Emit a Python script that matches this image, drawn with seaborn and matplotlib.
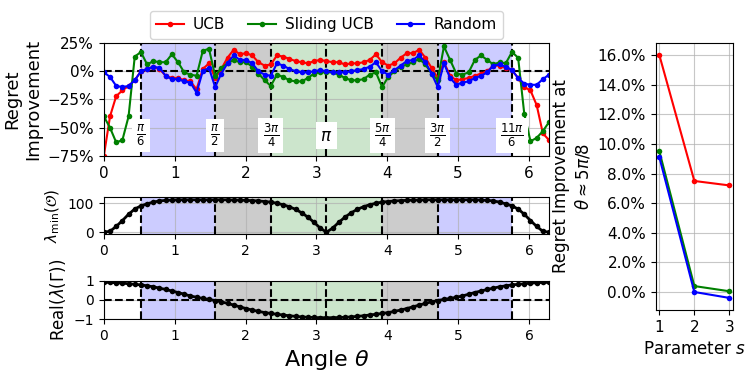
import numpy as np
import matplotlib
matplotlib.use("Agg")
import matplotlib.pyplot as plt
import seaborn as sns
from matplotlib.ticker import PercentFormatter

# angle grid, 5 degree steps
theta = np.deg2rad(np.arange(0, 361, 5))

# regret improvement (%) per strategy
ucb = [-75, -40, -22, -17, -13, -8, 0, 2, 4, 2, -4, -6, -6, -8, -9, -16, 2, 7, -6,
       2, 12, 19, 15, 16, 14, 8, 5, 6, 14, 13, 11, 9, 8, 7, 9, 10, 9,
       8, 8, 6, 7, 7, 8, 10, 15, 8, 5, 7, 12, 16, 16, 19, 12, 3, -6,
       8, -4, -8, -7, -6, -4, -2, 0, 5, 5, 3, 1, -6, -14, -17, -30, -55, -61]
sliding = [-40, -50, -63, -61, -40, 13, 17, 6, 9, 8, 8, 15, 8, -1, -3, -4, 18, 20, -4,
           3, 7, 10, 8, 8, 4, -2, -8, -13, -3, -5, -8, -9, -9, -6, -2, -1, -1,
           -1, -3, -6, -8, -8, -7, -3, -1, -14, -5, 0, 4, 6, 8, 11, 6, -2, -8,
           22, 10, -2, -3, -1, 10, 14, 10, 6, 8, 7, 17, 12, -38, -62, -59, -53, -45]
random_ = [-1, -5, -13, -14, -13, -8, 0, 2, 4, 3, -4, -7, -7, -9, -10, -19, 0, 3, -14,
           -2, 7, 14, 10, 10, 7, 0, -3, -4, 7, 5, 2, 0, -1, -1, 0, 1, 0,
           -1, -1, -1, 0, 1, 2, 4, 8, 0, -3, 1, 5, 9, 10, 14, 8, -2, -14,
           7, -6, -12, -10, -9, -6, -4, -1, 5, 6, 4, 1, -6, -11, -12, -12, -7, -3]

lam_min = [0, 3, 20, 40, 62, 80, 91, 98, 104, 108, 110, 111, 112, 112, 112, 112, 112, 112,
           112, 112, 112, 111, 111, 110, 109, 108, 106, 104, 100, 95, 88, 79, 67, 52, 34, 14,
           0,
           14, 34, 52, 67, 79, 88, 95, 100, 104, 106, 108, 109, 110, 111, 111, 112, 112, 112,
           112, 112, 112, 112, 112, 112, 111, 110, 108, 104, 98, 91, 80, 62, 40, 20, 3, 0]
real_gamma = [0.92, 0.92, 0.90, 0.88, 0.85, 0.82, 0.79, 0.74, 0.69, 0.62, 0.55, 0.47, 0.39,
              0.30, 0.21, 0.14, 0.08, 0.03, -0.03, -0.10, -0.18, -0.27, -0.36, -0.45, -0.53,
              -0.60, -0.66, -0.71, -0.75, -0.79, -0.83, -0.86, -0.89, -0.91, -0.92, -0.93, -0.93,
              -0.93, -0.92, -0.91, -0.89, -0.86, -0.83, -0.79, -0.75, -0.71, -0.66, -0.60, -0.53,
              -0.45, -0.36, -0.27, -0.18, -0.10, -0.03, 0.03, 0.08, 0.14, 0.21, 0.30, 0.39,
              0.47, 0.55, 0.62, 0.69, 0.74, 0.79, 0.82, 0.85, 0.88, 0.90, 0.92, 0.92]

# right panel: improvement at theta ~ 5pi/8 vs s
s_vals = [1, 2, 3]
ucb_s = [16.0, 7.5, 7.2]
sliding_s = [9.5, 0.4, 0.05]
random_s = [9.1, 0.0, -0.4]

marks = [np.pi / 6, np.pi / 2, 3 * np.pi / 4, np.pi, 5 * np.pi / 4, 3 * np.pi / 2, 11 * np.pi / 6]
mark_labels = [r"$\frac{\pi}{6}$", r"$\frac{\pi}{2}$", r"$\frac{3\pi}{4}$", r"$\pi$",
               r"$\frac{5\pi}{4}$", r"$\frac{3\pi}{2}$", r"$\frac{11\pi}{6}$"]
regions = [(np.pi / 6, np.pi / 2, "blue", 0.2), (np.pi / 2, 3 * np.pi / 4, "gray", 0.4),
           (3 * np.pi / 4, 5 * np.pi / 4, "green", 0.2), (5 * np.pi / 4, 3 * np.pi / 2, "gray", 0.4),
           (3 * np.pi / 2, 11 * np.pi / 6, "blue", 0.2)]

fig = plt.figure(figsize=(7.47, 3.74), dpi=100)
ax1 = fig.add_axes([0.139, 0.583, 0.596, 0.302])
ax2 = fig.add_axes([0.139, 0.373, 0.596, 0.099])
ax3 = fig.add_axes([0.139, 0.147, 0.596, 0.102])
ax4 = fig.add_axes([0.878, 0.171, 0.103, 0.714])


def decorate(ax):
    for a, b, c, al in regions:
        ax.axvspan(a, b, color=c, alpha=al, lw=0, zorder=0)
    for m in marks:
        ax.axvline(m, color="black", ls="--", lw=1.5, zorder=1)
    ax.set_xlim(0, 2 * np.pi)
    ax.grid(True, color="#b0b0b0", lw=0.8, alpha=0.7, zorder=0)
    ax.set_axisbelow(True)


kw = dict(marker="o", markersize=4, markeredgewidth=0, lw=1.5)

decorate(ax1)
ax1.axhline(0, color="black", ls="--", lw=1.5, zorder=1)
sns.lineplot(x=theta, y=ucb, color="red", label="UCB", ax=ax1, **kw)
sns.lineplot(x=theta, y=sliding, color="green", label="Sliding UCB", ax=ax1, **kw)
sns.lineplot(x=theta, y=random_, color="blue", label="Random", ax=ax1, **kw)
handles, labels = ax1.get_legend_handles_labels()
if ax1.get_legend() is not None:
    ax1.get_legend().remove()
ax1.set_ylim(-75, 25)
ax1.set_yticks([-75, -50, -25, 0, 25])
ax1.yaxis.set_major_formatter(PercentFormatter(decimals=0))
ax1.set_xlabel("")
ax1.set_ylabel("Regret\nImprovement", fontsize=13)
ax1.tick_params(labelsize=11)
for m, lab in zip(marks, mark_labels):
    ax1.text(m, -57, lab, ha="center", va="center", fontsize=12, zorder=5,
             bbox=dict(facecolor="white", edgecolor="none", pad=3))

decorate(ax2)
sns.lineplot(x=theta, y=lam_min, color="black", ax=ax2, marker="o", markersize=4,
             markeredgewidth=0, lw=2)
ax2.set_ylim(-8, 120)
ax2.set_yticks([0, 100])
ax2.set_ylabel(r"$\lambda_{\min}(\mathcal{O})$", fontsize=11)
ax2.tick_params(labelsize=10)

decorate(ax3)
ax3.axhline(0, color="black", ls="--", lw=1.5, zorder=1)
sns.lineplot(x=theta, y=real_gamma, color="black", ax=ax3, marker="o", markersize=4,
             markeredgewidth=0, lw=2)
ax3.set_ylim(-1, 1)
ax3.set_yticks([-1, 0, 1])
ax3.set_ylabel(r"Real($\lambda(\Gamma)$)", fontsize=12)
ax3.set_xlabel(r"Angle $\theta$", fontsize=16)
ax3.tick_params(labelsize=10)

sns.lineplot(x=s_vals, y=ucb_s, color="red", ax=ax4, **kw)
sns.lineplot(x=s_vals, y=sliding_s, color="green", ax=ax4, **kw)
sns.lineplot(x=s_vals, y=random_s, color="blue", ax=ax4, **kw)
ax4.set_xticks([1, 2, 3])
ax4.set_yticks(np.arange(0, 17, 2))
ax4.yaxis.set_major_formatter(PercentFormatter(decimals=1))
ax4.grid(True, color="#b0b0b0", lw=0.8, alpha=0.7)
ax4.set_ylabel("Regret Improvement at\n" + r"$\theta \approx 5\pi/8$", fontsize=12)
ax4.set_xlabel(r"Parameter $s$", fontsize=12)
ax4.tick_params(labelsize=11)

fig.legend(handles, labels, loc="upper center", bbox_to_anchor=(0.437, 0.99), ncol=3,
           fontsize=11, handlelength=1.8, handletextpad=0.6, columnspacing=1.5)

fig.savefig("out.png", dpi=100)
